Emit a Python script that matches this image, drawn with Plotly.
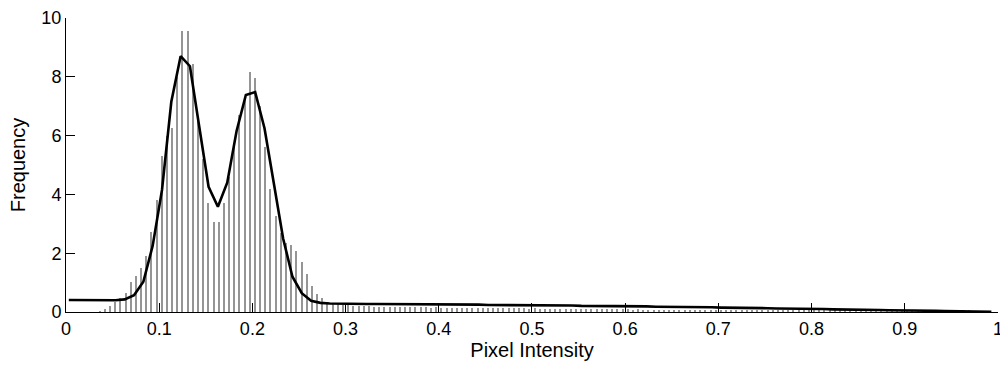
import numpy as np
import plotly.graph_objects as go

# Histogram: 180 bins over [0, 1]
bin_width = 1 / 180
hist_values = [
    0, 0, 0, 0, 0, 0,
    0.02, 0.09, 0.22, 0.34, 0.47, 0.64, 1.01, 1.22, 1.50, 1.90,
    2.73, 3.80, 5.30, 6.00, 6.25, 8.00, 9.56, 9.56, 8.42, 6.60,
    5.20, 3.70, 3.07, 3.07, 3.70, 4.60, 5.70, 6.70, 7.30, 8.15,
    7.97, 7.00, 5.60, 4.20, 3.27, 2.70, 2.35, 2.28, 2.07, 1.71,
    1.29, 0.88, 0.61, 0.47, 0.35, 0.28,
    0.26, 0.25, 0.24, 0.22, 0.21, 0.20, 0.19, 0.18, 0.18,
    0.18, 0.17, 0.17, 0.17, 0.16, 0.17, 0.16, 0.16, 0.16, 0.15,
    0.16, 0.15, 0.15, 0.15, 0.14, 0.15, 0.14, 0.14, 0.14, 0.13,
    0.13, 0.13, 0.12, 0.13, 0.12, 0.12, 0.12, 0.12, 0.11, 0.12,
    0.11, 0.11, 0.11, 0.11, 0.10, 0.11, 0.10, 0.10, 0.10, 0.10,
    0.10, 0.09, 0.10, 0.09, 0.09, 0.09, 0.09,
    0.09, 0.08, 0.09, 0.08, 0.08, 0.08, 0.08, 0.08, 0.07, 0.08,
    0.07, 0.07, 0.07, 0.07, 0.07, 0.07, 0.06, 0.07, 0.06, 0.06,
    0.06, 0.06, 0.06, 0.06, 0.06, 0.05, 0.06, 0.05, 0.05, 0.05,
    0.05, 0.05, 0.05,
    0.05, 0.05, 0.05, 0.04, 0.05, 0.04, 0.04, 0.04, 0.04, 0.04,
    0.04, 0.04, 0.04, 0.04, 0.04, 0.04, 0.04, 0.05, 0.05, 0.05, 0.05,
    0.06, 0.06, 0.06, 0.06, 0.07, 0.07, 0.07, 0.07, 0.07, 0.06,
    0.06, 0.06, 0.05,
    0.03, 0.02, 0.01, 0.01, 0.0,
]
assert len(hist_values) == 180
bin_centers = (np.arange(len(hist_values)) + 0.5) * bin_width

# Density curve sampled every 0.01 starting at 0.003
curve_x = [round(0.003 + 0.01 * k, 3) for k in range(100)]
curve_y = [
    0.41, 0.41, 0.40, 0.40, 0.39, 0.40, 0.43, 0.57, 1.03, 2.25,
    4.15, 7.15, 8.70, 8.36, 6.30, 4.26, 3.58, 4.40, 6.15, 7.38,
    7.48, 6.25, 4.38, 2.50, 1.20, 0.64, 0.38, 0.31, 0.29, 0.28,
    0.28, 0.28, 0.27, 0.27, 0.27, 0.27, 0.26, 0.26, 0.26, 0.26,
    0.26, 0.25, 0.25, 0.25, 0.25, 0.24, 0.24, 0.24, 0.24, 0.23,
    0.23, 0.23, 0.22, 0.22, 0.22, 0.21, 0.21, 0.21, 0.20, 0.20,
    0.19, 0.19, 0.19, 0.18, 0.18, 0.17, 0.17, 0.17, 0.16, 0.16,
    0.15, 0.15, 0.14, 0.14, 0.13, 0.13, 0.12, 0.12, 0.11, 0.11,
    0.10, 0.10, 0.09, 0.09, 0.08, 0.08, 0.07, 0.07, 0.06, 0.06,
    0.05, 0.05, 0.04, 0.04, 0.03, 0.03, 0.02, 0.02, 0.01, 0.01,
]

x_ticks = [0, 0.1, 0.2, 0.3, 0.4, 0.5, 0.6, 0.7, 0.8, 0.9, 1]
x_tick_labels = ["0", "0.1", "0.2", "0.3", "0.4", "0.5", "0.6", "0.7", "0.8", "0.9", "1"]
y_ticks = [0, 2, 4, 6, 8, 10]
y_tick_labels = ["0", "2", "4", "6", "8", "10"]

FONT = "Liberation Sans, Arial, Helvetica, sans-serif"

fig = go.Figure()
fig.add_trace(go.Bar(
    x=bin_centers, y=hist_values, width=0.0011,
    marker=dict(color="#959595", line=dict(width=0)),
    showlegend=False, hoverinfo="skip",
))
fig.add_trace(go.Scatter(
    x=curve_x, y=curve_y, mode="lines",
    line=dict(color="black", width=2.6),
    showlegend=False,
))

fig.update_layout(
    width=1000, height=367,
    margin=dict(l=66, r=2, t=18, b=55),
    paper_bgcolor="white", plot_bgcolor="white",
    font=dict(family=FONT, size=18, color="black"),
    bargap=0,
)
fig.update_xaxes(
    range=[0, 1.0001], tickvals=x_ticks, ticktext=x_tick_labels,
    ticks="inside", ticklen=9, tickwidth=1, tickcolor="black",
    showline=True, linecolor="black", linewidth=1,
    showgrid=False, zeroline=False,
    ticklabeloverflow="allow", automargin=False,
    title=dict(text="Pixel Intensity", font=dict(size=20), standoff=4),
    tickfont=dict(size=18),
)
fig.update_yaxes(
    range=[0, 10], tickvals=y_ticks, ticktext=y_tick_labels,
    ticks="inside", ticklen=9, tickwidth=1, tickcolor="black",
    showline=True, linecolor="black", linewidth=1,
    showgrid=False, zeroline=False,
    ticklabeloverflow="allow", automargin=False,
    title=dict(text="Frequency", font=dict(size=20), standoff=10),
    tickfont=dict(size=18),
)

fig.write_html("out.html")
